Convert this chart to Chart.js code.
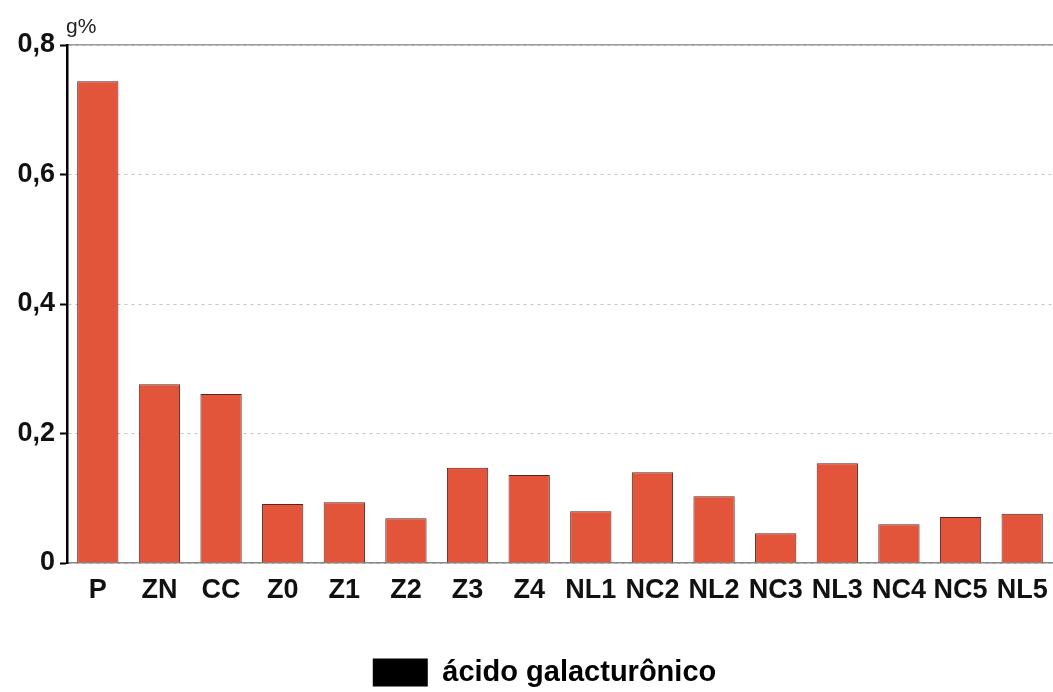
<!DOCTYPE html>
<html lang="pt">
<head>
    <meta charset="UTF-8">
    <title>Ácido galacturônico (g%)</title>
    <script src="https://cdn.jsdelivr.net/npm/chart.js@4.4.1/dist/chart.umd.min.js"></script>
    <style>
        body { margin: 0; background: #fff; }
        .chart-box { position: relative; width: 1053px; height: 692px; }
    </style>
</head>
<body>
    <div class="chart-box"><canvas id="pecChart"></canvas></div>

    <script>
        // data
        const categories = ['P', 'ZN', 'CC', 'Z0', 'Z1', 'Z2', 'Z3', 'Z4', 'NL1', 'NC2', 'NL2', 'NC3', 'NL3', 'NC4', 'NC5', 'NL5'];
        const galacturonic = [0.744, 0.276, 0.261, 0.091, 0.094, 0.069, 0.147, 0.136, 0.080, 0.140, 0.103, 0.046, 0.154, 0.060, 0.071, 0.076];
        const yTickLabels = ['0', '0,2', '0,4', '0,6', '0,8'];
        const seriesName = 'ácido galacturônico';
        const unitLabel = 'g%';

        const fontFamily = '"Liberation Sans", Arial, Helvetica, sans-serif';

        // small "g%" text above the y axis, and nudge the legend a bit right like the original
        const extrasPlugin = {
            id: 'extras',
            afterLayout(chart) {
                if (chart.legend) {
                    chart.legend.left += 18;
                    chart.legend.right += 18;
                }
            },
            afterDraw(chart) {
                const c = chart.ctx;
                const area = chart.chartArea;
                c.save();
                c.font = '21px ' + fontFamily;
                c.fillStyle = '#222';
                c.textAlign = 'left';
                c.textBaseline = 'alphabetic';
                c.fillText(unitLabel, area.left - 1, area.top - 12);
                c.restore();
            }
        };

        const ctx = document.getElementById('pecChart').getContext('2d');
        new Chart(ctx, {
            type: 'bar',
            data: {
                labels: categories,
                datasets: [{
                    label: seriesName,
                    data: galacturonic,
                    backgroundColor: '#e2553b',
                    borderColor: '#5a2218',
                    borderWidth: 1,
                    barPercentage: 0.67,
                    categoryPercentage: 1.0
                }]
            },
            options: {
                responsive: true,
                maintainAspectRatio: false,
                animation: false,
                layout: { padding: { top: 45, right: 0, bottom: -5, left: 0 } },
                plugins: {
                    tooltip: { enabled: false },
                    legend: {
                        position: 'bottom',
                        labels: {
                            boxWidth: 55,
                            boxHeight: 28,
                            padding: 0,
                            color: '#111',
                            font: { family: fontFamily, size: 29, weight: 'bold' },
                            generateLabels: function(chart) {
                                return [{ text: seriesName, fillStyle: '#000', strokeStyle: '#000', lineWidth: 0, datasetIndex: 0 }];
                            }
                        }
                    }
                },
                scales: {
                    x: {
                        grid: { display: false },
                        border: { color: '#888', width: 1.5 },
                        ticks: {
                            autoSkip: false,
                            maxRotation: 0,
                            padding: 3,
                            color: '#111',
                            font: { family: fontFamily, size: 27, weight: 'bold' }
                        },
                        afterFit: function(scale) { scale.height = 95; }
                    },
                    xTop: {
                        position: 'top',
                        labels: categories,
                        grid: { display: false },
                        border: { color: '#999', width: 1.5 },
                        ticks: { display: false },
                        afterFit: function(scale) { scale.height = 0; }
                    },
                    y: {
                        min: 0,
                        max: 0.8,
                        ticks: {
                            stepSize: 0.2,
                            padding: 5,
                            color: '#111',
                            font: { family: fontFamily, size: 27, weight: 'bold' },
                            callback: function(value, index) { return yTickLabels[index]; }
                        },
                        grid: {
                            color: '#c4c4c4',
                            lineWidth: 1,
                            tickLength: 7,
                            tickColor: '#000',
                            tickWidth: 2
                        },
                        border: { color: '#000', width: 2.5, dash: [3, 4] },
                        afterFit: function(scale) { scale.width = 67; }
                    }
                }
            },
            plugins: [extrasPlugin]
        });
    </script>
</body>
</html>
